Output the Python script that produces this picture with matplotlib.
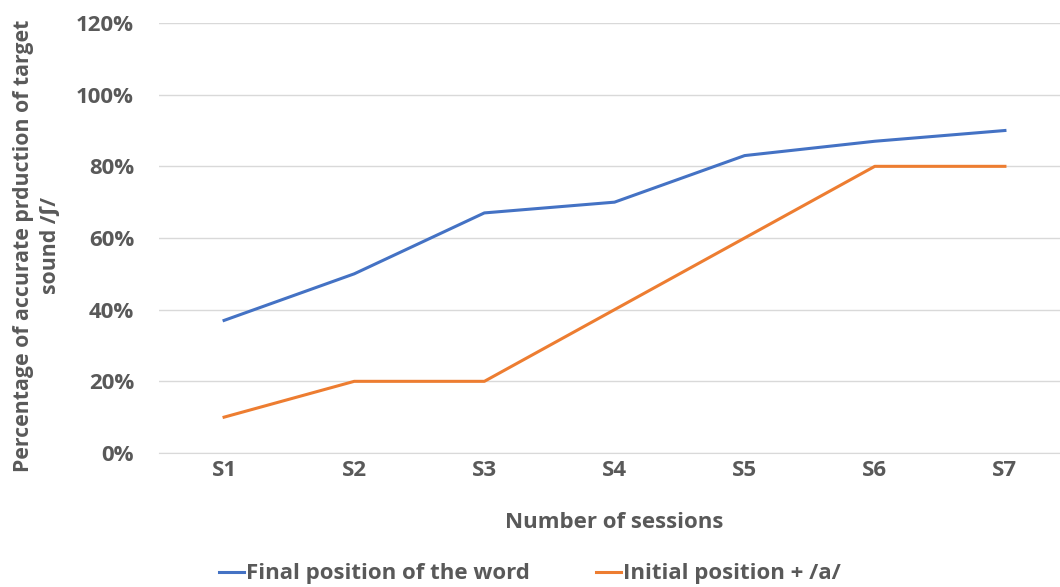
import matplotlib.pyplot as plt
from matplotlib.ticker import FuncFormatter

sessions = ['S1', 'S2', 'S3', 'S4', 'S5', 'S6', 'S7']
final_word = [37, 50, 67, 70, 83, 87, 90]
initial_a = [10, 20, 20, 40, 60, 80, 80]
yticks = [0, 20, 40, 60, 80, 100, 120]

GREY = '#595959'
FS = 16
plt.rcParams['font.family'] = ['Open Sans', 'DejaVu Sans']
plt.rcParams['font.weight'] = 'bold'

fig = plt.figure(figsize=(10.6, 5.87), dpi=100)
ax = fig.add_axes([159 / 1060, 1 - 453 / 587, 911 / 1060, 430 / 587])

x = range(len(sessions))
ax.plot(x, final_word, color='#4472C4', lw=2.2, label='Final position of the word')
ax.plot(x, initial_a, color='#ED7D31', lw=2.2, label='Initial position + /a/')

ax.set_xlim(-0.5, 6.5)
ax.set_ylim(0, 120)
ax.set_yticks(yticks)
ax.yaxis.set_major_formatter(FuncFormatter(lambda v, p: f'{v:.0f}%'))
ax.set_xticks(list(x))
ax.set_xticklabels(sessions)
ax.grid(axis='y', color='#D9D9D9', lw=1)
ax.set_axisbelow(True)
for s in ['top', 'right', 'left']:
    ax.spines[s].set_visible(False)
ax.spines['bottom'].set_color('#D9D9D9')
ax.tick_params(length=0, labelsize=FS, labelcolor=GREY)
ax.tick_params(axis='x', pad=5)
ax.tick_params(axis='y', pad=18)

ax.set_xlabel('Number of sessions', fontsize=FS, color=GREY, labelpad=22, fontweight='bold')
fig.text(37 / 1060, 1 - 246 / 587, 'Percentage of accurate prduction of target\nsound /ʃ/',
         rotation=90, ha='center', va='center', fontsize=15.3, color=GREY,
         fontweight='bold', linespacing=1.35)

fig.legend(loc='center', bbox_to_anchor=(0.5, 1 - 574 / 587), ncol=2, frameon=False,
           fontsize=FS, labelcolor=GREY, handlelength=1.1, handletextpad=0.1,
           columnspacing=3.0)

fig.savefig('out.png', dpi=100)
